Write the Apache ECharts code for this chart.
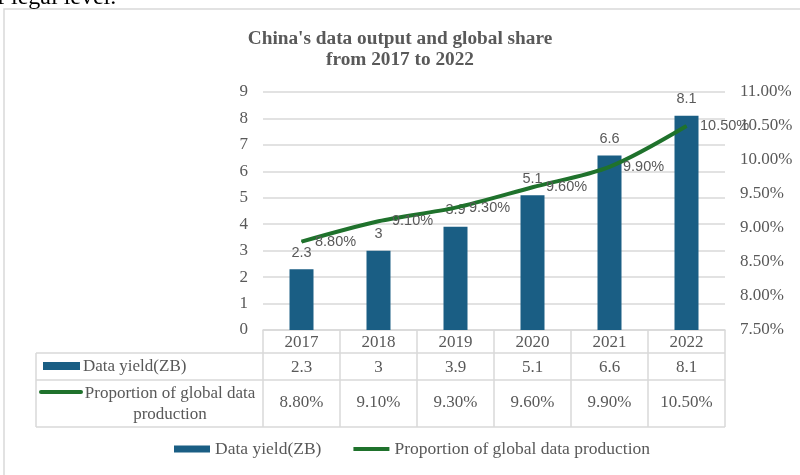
<!DOCTYPE html>
<html>
<head>
<meta charset="utf-8">
<script src="https://cdn.jsdelivr.net/npm/echarts@6/dist/echarts.min.js"></script>
<style>html,body{margin:0;padding:0;background:#fff;}#c{width:800px;height:475px;}</style>
</head>
<body>
<div id="c"></div>
<script>
const categories = ['2017', '2018', '2019', '2020', '2021', '2022'];
const dataYield = [2.3, 3, 3.9, 5.1, 6.6, 8.1];
const globalShare = [8.8, 9.1, 9.3, 9.6, 9.9, 10.5];
const seriesNames = ['Data yield(ZB)', 'Proportion of global data production'];
const titleText = "China's data output and global share\nfrom 2017 to 2022";

const SERIF = '"Liberation Serif", "DejaVu Serif", serif';
const SANS = '"Liberation Sans", Arial, sans-serif';
const GRAY = '#595959';
const LINEC = '#d9d9d9';
const BAR = '#1a5e84';
const GREEN = '#1f722c';
const FS = 17;

const gL = 263, gR = 725, gT = 92, gB = 330;
const row1 = gB + 23, row2 = gB + 50, row3 = gB + 97, tabL = 36;

const yieldLabels = dataYield.map(v => String(v));
const shareLabels = globalShare.map(v => v.toFixed(2) + '%');

const chart = echarts.init(document.getElementById('c'), null, {renderer: 'canvas'});
const hl = (y, x1, x2) => ({type: 'line', shape: {x1: x1, y1: y, x2: x2, y2: y}, style: {stroke: LINEC, lineWidth: 1.5}, silent: true});

chart.setOption({
  animation: false,
  backgroundColor: '#fff',
  title: {
    text: titleText, left: 'center', top: 24,
    textStyle: {fontFamily: SERIF, fontSize: 19.3, fontWeight: 'bold', color: GRAY, lineHeight: 21}
  },
  grid: {left: gL, right: 800 - gR, top: gT, bottom: 475 - gB, containLabel: false},
  legend: {
    bottom: 12, left: 169, itemGap: 32, itemWidth: 36, itemHeight: 7,
    textStyle: {fontFamily: SERIF, fontSize: 17.5, color: GRAY},
    data: [
      {name: seriesNames[0], icon: 'rect'},
      {name: seriesNames[1], icon: 'path://M0,0L40,0L40,4.2L0,4.2Z', itemStyle: {color: GREEN}}
    ]
  },
  xAxis: [
    {type: 'category', data: categories, position: 'bottom',
     axisLine: {show: true, lineStyle: {color: LINEC, width: 1.5}},
     axisTick: {show: true, interval: 0, length: row3 - gB, lineStyle: {color: LINEC, width: 1.5}},
     axisLabel: {fontFamily: SERIF, fontSize: FS, color: GRAY, margin: 4, interval: 0}},
    {type: 'category', data: yieldLabels, position: 'bottom', offset: 25,
     axisLine: {show: false}, axisTick: {show: false},
     axisLabel: {fontFamily: SERIF, fontSize: FS, color: GRAY, margin: 4, interval: 0}},
    {type: 'category', data: shareLabels, position: 'bottom', offset: 60,
     axisLine: {show: false}, axisTick: {show: false},
     axisLabel: {fontFamily: SERIF, fontSize: FS, color: GRAY, margin: 4, interval: 0}}
  ],
  yAxis: [
    {type: 'value', min: 0, max: 9, interval: 1,
     axisLine: {show: false}, axisTick: {show: false},
     splitLine: {lineStyle: {color: LINEC, width: 1.5}},
     axisLabel: {fontFamily: SERIF, fontSize: FS, color: GRAY, margin: 15}},
    {type: 'value', min: 7.5, max: 11, interval: 0.5, position: 'right',
     axisLine: {show: false}, axisTick: {show: false}, splitLine: {show: false},
     axisLabel: {fontFamily: SERIF, fontSize: FS, color: GRAY, margin: 15, formatter: v => v.toFixed(2) + '%'}}
  ],
  series: [
    {name: seriesNames[0], type: 'bar', data: dataYield, barWidth: 24, xAxisIndex: 0, yAxisIndex: 0,
     itemStyle: {color: BAR},
     label: {show: true, position: 'top', distance: 9, fontFamily: SANS, fontSize: 14.5, color: GRAY}},
    {name: seriesNames[1], type: 'line', data: globalShare, xAxisIndex: 0, yAxisIndex: 1,
     smooth: 0.3, symbol: 'circle', symbolSize: 1, showSymbol: true,
     lineStyle: {color: GREEN, width: 4}, itemStyle: {color: GREEN},
     label: {show: true, position: 'right', distance: 13, offset: [0, 2], fontFamily: SANS, fontSize: 14.5, color: GRAY,
             formatter: p => p.value.toFixed(2) + '%'},
     labelLayout: {hideOverlap: false},
     z: 5}
  ],
  graphic: [
    {type: 'rect', shape: {x: 4, y: 9, width: 820, height: 500}, style: {fill: 'none', stroke: LINEC, lineWidth: 1.5}, silent: true, z: -1},
    {type: 'text', x: -3, y: -14, style: {text: 'f legal level.', font: '24px ' + SERIF, fill: '#000'}},
    hl(row1, tabL, gR), hl(row2, tabL, gR), hl(row3, tabL, gR),
    {type: 'line', shape: {x1: tabL, y1: row1, x2: tabL, y2: row3}, style: {stroke: LINEC, lineWidth: 1.5}},
    {type: 'rect', shape: {x: 43, y: row1 + 9, width: 37, height: 8}, style: {fill: BAR}},
    {type: 'text', x: 83, y: (row1 + row2) / 2, style: {text: seriesNames[0], font: FS + 'px ' + SERIF, fill: GRAY, verticalAlign: 'middle'}},
    {type: 'line', shape: {x1: 41, y1: row2 + 12, x2: 81, y2: row2 + 12}, style: {stroke: GREEN, lineWidth: 4, lineCap: 'round'}},
    {type: 'text', x: 170, y: (row2 + row3) / 2 + 1, style: {text: 'Proportion of global data\nproduction', font: FS + 'px ' + SERIF, fill: GRAY, align: 'center', verticalAlign: 'middle', lineHeight: 21}}
  ]
});
</script>
</body>
</html>
